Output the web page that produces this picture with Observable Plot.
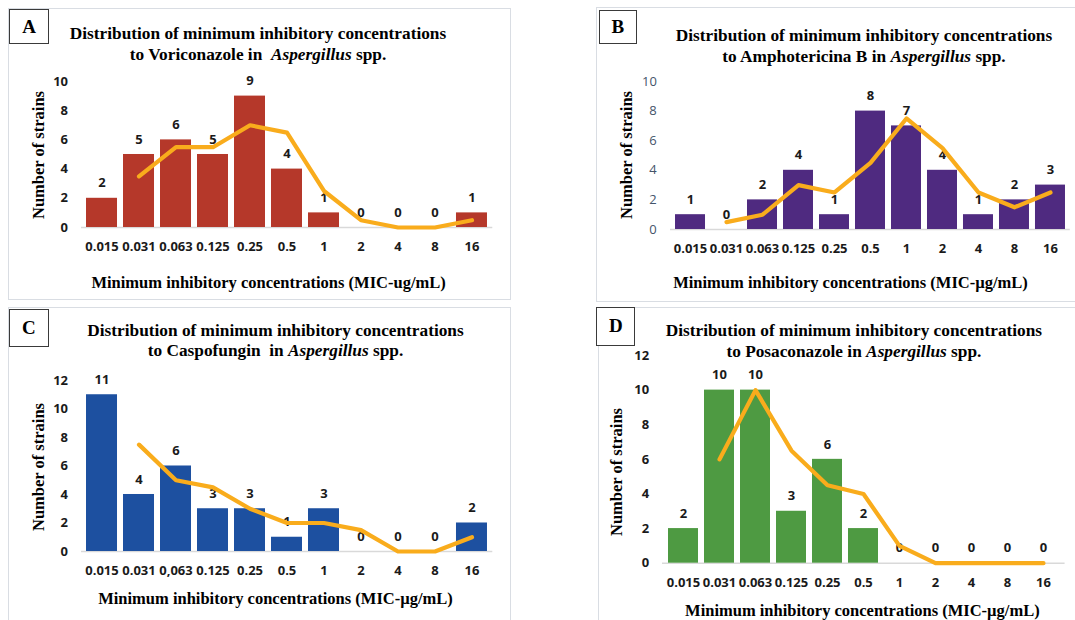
<!DOCTYPE html>
<html><head><meta charset="utf-8">
<script src="https://cdn.jsdelivr.net/npm/d3@7"></script>
<script src="https://cdn.jsdelivr.net/npm/@observablehq/plot@0.6"></script>
<style>
body{margin:0;background:#fff;}
#root{position:relative;width:1075px;height:620px;overflow:hidden;background:#fff;}
.panel{position:absolute;border:1px solid #d9dde3;box-sizing:border-box;}
.letter{position:absolute;border:1.5px solid #3a3a3a;background:#fff;font:bold 19px "Liberation Serif",serif;display:flex;align-items:center;justify-content:center;box-sizing:border-box;color:#000;}
.t{position:absolute;font:bold 17.3px "Liberation Serif",serif;line-height:20px;height:20px;transform:translateX(-50%);white-space:pre;color:#000;}
.xl{position:absolute;font:bold 16.5px "Liberation Serif",serif;line-height:20px;height:20px;transform:translate(-50%,-50%);white-space:pre;color:#000;}
.yl{position:absolute;font:bold 16.5px "Liberation Serif",serif;line-height:20px;height:20px;transform:translate(-50%,-50%) rotate(-90deg);white-space:pre;color:#000;}
.plot{position:absolute;}
</style>
</head><body><div id="root"></div>
<script>
// ---- data ----
const mic = ["0.015","0.031","0.063","0.125","0.25","0.5","1","2","4","8","16"];
const micLabelsC = ["0.015","0.031","0,063","0.125","0.25","0.5","1","2","4","8","16"];
const trendMic = ["0.031","0.063","0.125","0.25","0.5","1","2","4","8","16"];

const countsA = [2,5,6,5,9,4,1,0,0,0,1];
const trendA  = [3.5,5.5,5.5,7,6.5,2.5,0.5,0,0,0.5];
const countsB = [1,0,2,4,1,8,7,4,1,2,3];
const trendB  = [0.5,1,3,2.5,4.5,7.5,5.5,2.5,1.5,2.5];
const countsC = [11,4,6,3,3,1,3,0,0,0,2];
const trendC  = [7.5,5,4.5,3,2,2,1.5,0,0,1];
const countsD = [2,10,10,3,6,2,0,0,0,0,0];
const trendD  = [6,10,6.5,4.5,4,1,0,0,0,0];

const ticks10 = [0,2,4,6,8,10];
const ticks12 = [0,2,4,6,8,10,12];

const titleLine1 = "Distribution of minimum inhibitory concentrations";
const titlesLine2 = {
  A: ["to Voriconazole in  ", "Aspergillus", " spp."],
  B: ["to Amphotericina B in ", "Aspergillus", " spp."],
  C: ["to Caspofungin  in ", "Aspergillus", " spp."],
  D: ["to Posaconazole in ", "Aspergillus", " spp."]
};
const xLabels = {
  A: "Minimum inhibitory concentrations (MIC-ug/mL)",
  B: "Minimum inhibitory concentrations (MIC-\u00b5g/mL)",
  C: "Minimum inhibitory concentrations (MIC-\u00b5g/mL)",
  D: "Minimum inhibitory concentrations (MIC-\u00b5g/mL)"
};
const yLabel = "Number of strains";

// ---- layout ----
const panels = [
  {id:"A", color:"#b5382a", counts:countsA, trend:trendA, ticks:ticks10, yMax:10, tickLabels:mic,
   box:{l:7.5,t:8,w:503,h:292}, letter:{l:9,t:9,w:40,h:35},
   title:{x:258,y1:34,y2:55}, xLeft:81.2, xRight:492.5, y0:227, yTop:81,
   xPad:14.5, yPad:13.5, yTickBold:true, yTickColor:"#1a1a1a",
   xl:{x:268.6,y:283}, yl:{x:38.6,y:155}},
  {id:"B", color:"#4f2a80", counts:countsB, trend:trendB, ticks:ticks10, yMax:10, tickLabels:mic,
   box:{l:596.3,t:7.3,w:500,h:294.5}, letter:{l:598.7,t:10,w:38.5,h:33.5},
   title:{x:864,y1:36,y2:56.7}, xLeft:670.2, xRight:1070, y0:228.7, yTop:80.7,
   xPad:14, yPad:13.7, yTickBold:false, yTickColor:"#44546a",
   xl:{x:850.5,y:282.7}, yl:{x:627,y:155}},
  {id:"C", color:"#1d50a0", counts:countsC, trend:trendC, ticks:ticks12, yMax:12, tickLabels:micLabelsC,
   box:{l:7.5,t:307.3,w:503,h:330}, letter:{l:9,t:309,w:39.5,h:37.7},
   title:{x:275.5,y1:330.7,y2:350.7}, xLeft:81.2, xRight:492.5, y0:551, yTop:380,
   xPad:14, yPad:13.5, yTickBold:true, yTickColor:"#1a1a1a",
   xl:{x:275.5,y:599}, yl:{x:38.6,y:466.7}},
  {id:"D", color:"#4e9a42", counts:countsD, trend:trendD, ticks:ticks12, yMax:12, tickLabels:mic,
   box:{l:597.8,t:307.3,w:500,h:330}, letter:{l:596.3,t:307.3,w:39.2,h:38.4},
   title:{x:853.9,y1:330.7,y2:351.7}, xLeft:662.3, xRight:1064.9, y0:562.7, yTop:355,
   xPad:14.5, yPad:13.3, yTickBold:true, yTickColor:"#1a1a1a",
   xl:{x:862.4,y:610.7}, yl:{x:616.8,y:471.7}}
];

const root = document.getElementById("root");
const sansFont = "'Open Sans', Lato, sans-serif";
const fs = 13;

function el(cls, css, html) {
  const d = document.createElement("div");
  d.className = cls;
  Object.assign(d.style, css);
  if (html !== undefined) d.innerHTML = html;
  root.appendChild(d);
  return d;
}
const px = v => v + "px";

for (const p of panels) {
  el("panel", {left:px(p.box.l), top:px(p.box.t), width:px(p.box.w), height:px(p.box.h)});

  const padL = 60, padR = 8, padT = 30, padB = 40;
  const width = p.xRight - p.xLeft + padL + padR;
  const height = p.y0 - p.yTop + padT + padB;
  const data = mic.map((m, i) => ({m, v: p.counts[i]}));
  const trend = trendMic.map((m, i) => ({m, v: p.trend[i]}));

  const chart = Plot.plot({
    width, height,
    marginLeft: padL, marginRight: padR, marginTop: padT, marginBottom: padB,
    style: {background: "transparent", overflow: "visible", fontFamily: sansFont, fontSize: fs + "px"},
    x: {type: "band", domain: mic, paddingInner: 0.17, paddingOuter: 0.085, label: null},
    y: {domain: [0, p.yMax], label: null},
    marks: [
      Plot.ruleY([0], {stroke: "#d9d9d9", strokeWidth: 1.5}),
      Plot.barY(data, {x: "m", y: "v", fill: p.color}),
      Plot.text(data, {x: "m", y: "v", text: d => String(d.v), dy: -15,
        fontWeight: "bold", fontSize: fs, fill: "#1a1a1a"}),
      Plot.line(trend, {x: "m", y: "v", stroke: "#f9ac1c", strokeWidth: 4.2,
        strokeLinejoin: "round", strokeLinecap: "round"}),
      Plot.axisX({tickSize: 0, tickPadding: p.xPad, label: null,
        tickFormat: d => p.tickLabels[mic.indexOf(d)],
        fontWeight: "bold", fontSize: fs, fill: "#1a1a1a"}),
      Plot.axisY({ticks: p.ticks, tickSize: 0, tickPadding: p.yPad, label: null,
        fontWeight: p.yTickBold ? "bold" : "normal", fontSize: fs, fill: p.yTickColor})
    ]
  });
  chart.classList.add("plot");
  chart.style.left = px(p.xLeft - padL);
  chart.style.top = px(p.yTop - padT);
  chart.style.position = "absolute";
  root.appendChild(chart);

  el("letter", {left:px(p.letter.l), top:px(p.letter.t), width:px(p.letter.w), height:px(p.letter.h)}, p.id);
  el("t", {left:px(p.title.x), top:px(p.title.y1 - 10)}).textContent = titleLine1;
  const t2 = el("t", {left:px(p.title.x), top:px(p.title.y2 - 10)});
  const [a, b, c] = titlesLine2[p.id];
  t2.appendChild(document.createTextNode(a));
  const it = document.createElement("i"); it.textContent = b; t2.appendChild(it);
  t2.appendChild(document.createTextNode(c));
  el("xl", {left:px(p.xl.x), top:px(p.xl.y)}).textContent = xLabels[p.id];
  el("yl", {left:px(p.yl.x), top:px(p.yl.y)}).textContent = yLabel;
}
</script>
</body></html>
